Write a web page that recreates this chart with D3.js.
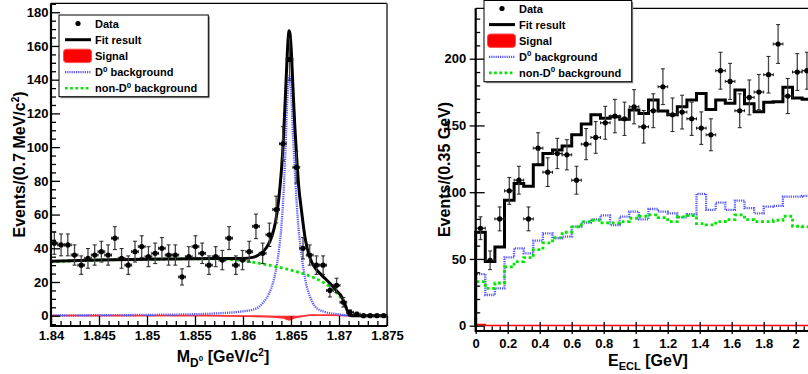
<!DOCTYPE html>
<html><head><meta charset="utf-8">
<script src="https://cdn.jsdelivr.net/npm/d3@7"></script>
<style>
body{margin:0;background:#fff}
svg{display:block}
text{font-family:"Liberation Sans",Arial,Helvetica,sans-serif;font-weight:bold;fill:#000}
</style>
</head><body>
<svg id="c" width="808" height="374"></svg>
<script>
// ---------------- LEFT PANEL DATA (M_D0) ----------------
const massRange = [1.84, 1.875];
const massBinWidth = 0.0007;
const massCounts = [43,42,42,36,30,34,36,38,36,46,34,30,38,41,35,37,40,36,36,23,
                    35,41,37,30,35,33,46,30,33,38,53,37,48,63,102,152,88,40,36,30,
                    30,15,18,8,2,1,0,0,0,0];
const massFit = [[1.8400,32.3],[1.8450,33.0],[1.8500,33.5],[1.8550,33.8],[1.8600,34.0],[1.8610,34.6],
  [1.8617,36.3],[1.8624,40],[1.8630,47],[1.8634,56],[1.8637,68],[1.8640,86],[1.8642,104],[1.8644,128],
  [1.8646,154],[1.8647,164],[1.8648,169],[1.8649,167],[1.8650,160],[1.8652,136],[1.8654,112],[1.8656,93],
  [1.8658,77],[1.8661,62],[1.8665,45],[1.8670,34],[1.8675,28.5],[1.8683,23.5],[1.8691,19],[1.8697,15],
  [1.8703,11],[1.8706,7],[1.8709,2.5],[1.8711,0.3],[1.8715,0],[1.8750,0]];
const massD0Bkg = [[1.8400,0.2],[1.8500,0.5],[1.8550,0.9],[1.8580,1.6],[1.8600,2.6],[1.8610,3.6],
  [1.8616,5],[1.8622,8.5],[1.8627,13],[1.8631,19],[1.8634,26],[1.8637,37],[1.8640,53],[1.8642,70],
  [1.8644,95],[1.8646,125],[1.8647,136],[1.8648,142],[1.8649,140],[1.8650,133],[1.8652,108],[1.8654,86],
  [1.8656,66],[1.8658,51],[1.8661,36],[1.8665,21],[1.8670,11],[1.8675,5.5],[1.8685,2.3],[1.8700,0.8],
  [1.8711,0.1],[1.8720,0],[1.8750,0]];
const massNonD0Bkg = [[1.8400,32.0],[1.8450,33.0],[1.8500,33.5],[1.8550,33.8],[1.8575,33.6],[1.8600,32.6],
  [1.8625,30.2],[1.8650,27.0],[1.8665,24.5],[1.8675,22.2],[1.8685,19.3],[1.8692,16.5],[1.8698,13.2],
  [1.8703,9.8],[1.8707,6.0],[1.8710,2.0],[1.8712,0]];
const massSignal = [[1.8400,0],[1.8560,0],[1.8600,-0.2],[1.8630,-0.6],[1.8642,-1.2],[1.8648,-2.4],
  [1.8654,-1.1],[1.8662,-0.3],[1.8670,0.3],[1.8690,0.3],[1.8711,0],[1.8750,0]];
const massTicks = [1.84,1.845,1.85,1.855,1.86,1.865,1.87,1.875];
const massYTicks = [0,20,40,60,80,100,120,140,160,180];

// ---------------- RIGHT PANEL DATA (E_ECL) ----------------
const eclRange = [0, 2.1];
const eclBinWidth = 0.06;
const eclCounts = [73,49,80,101,109,80,133,115,129,128,109,136,141,152,157,155,164,149,161,179,
                   158,160,155,148,143,191,183,161,171,175,188,211,172,190,191];
const eclFit = [70,48,59,94,106.5,104.5,120.5,129,131.6,134.6,143,151,158,155.4,156.6,154.6,161.6,159,
                169,160.8,158,164,169,174,162,169,166.6,176.6,166.3,160.3,167.4,167.8,178.6,170.6,169.7];
const eclD0Bkg = [38.7,23,28,51.2,57.9,54.2,63.7,69.2,65.5,66.7,74.2,77.2,79.7,82.7,75.4,81.7,85.4,79.7,
                  87.4,85.4,84.2,81.2,83.5,98.7,86.7,92.2,86.7,93.7,88,84.2,89.2,89.7,96.7,96.7,97.2];
const eclNonD0Bkg = [33,28,32,44,48,51,57,62,66,70,74,78,79,77,77,78,80.5,82,83,81,78,81.5,82.5,76.5,
                     75.5,78,79.5,83,79.5,78,78,79,82,74.5,74];
const eclSignal = [0.8,0.2,0.2,0.2,0.2,0.2,0.2,0.2,0.2,0.2,0.2,0.2,0.2,0.2,0.2,0.2,0.2,0.2,0.2,0.2,
                   0.2,0.2,0.2,0.2,0.2,0.2,0.2,0.2,0.2,0.2,0.2,0.2,0.2,0.2,0.2];
const eclTicks = [0,0.2,0.4,0.6,0.8,1,1.2,1.4,1.6,1.8,2];
const eclYTicks = [0,50,100,150,200];

const legendLabels = ["Data","Fit result","Signal","D0 background","non-D0 background"];

// ---------------- STYLES ----------------
const BLUE = "#5555ff", GREEN = "#00e600", RED = "#ff0000";
const svg = d3.select("#c");

function styleAxisText(g, size){
  g.selectAll("text").attr("font-size", size).attr("font-weight","bold")
   .attr("font-family",'"Liberation Sans",Arial,Helvetica,sans-serif').attr("fill","#000");
  g.select(".domain").remove();
  g.selectAll(".tick line").attr("stroke","#000").attr("stroke-width",1.3);
}

function errorBars(g, pts, x, y, halfW){
  const eg = g.append("g");
  pts.forEach(p=>{
    const cx = x(p.x), cy = y(p.n), e = Math.sqrt(p.n);
    const x0 = x(p.x-halfW), x1 = x(p.x+halfW);
    eg.append("line").attr("x1",x0).attr("x2",x1).attr("y1",cy).attr("y2",cy)
      .attr("stroke","#222").attr("stroke-width",1.3);
    [x0,x1].forEach(xx=>eg.append("line").attr("x1",xx).attr("x2",xx).attr("y1",cy-1.5).attr("y2",cy+1.5)
      .attr("stroke","#222").attr("stroke-width",1));
    if(e>0){
      const ya = y(p.n+e), yb = y(p.n-e);
      eg.append("line").attr("x1",cx).attr("x2",cx).attr("y1",ya).attr("y2",yb)
        .attr("stroke","#444").attr("stroke-width",1.3);
      [ya,yb].forEach(yy=>eg.append("line").attr("x1",cx-2).attr("x2",cx+2).attr("y1",yy).attr("y2",yy)
        .attr("stroke","#222").attr("stroke-width",1));
    }
    eg.append("circle").attr("cx",cx).attr("cy",cy).attr("r",2.6).attr("fill","#000");
  });
}

function legend(g, x0, y0, w, h, sx, ys){
  g.append("rect").attr("x",x0+1.5).attr("y",y0+1.5).attr("width",w).attr("height",h).attr("fill","#888");
  g.append("rect").attr("x",x0).attr("y",y0).attr("width",w).attr("height",h).attr("fill","#fff")
    .attr("stroke","#000").attr("stroke-width",1);
  const lx0 = sx, lx1 = sx+26, tx = sx+30;
  g.append("circle").attr("cx",(lx0+lx1)/2).attr("cy",ys[0]).attr("r",2.6).attr("fill","#000");
  g.append("line").attr("x1",lx0).attr("x2",lx1).attr("y1",ys[1]).attr("y2",ys[1]).attr("stroke","#000").attr("stroke-width",3);
  g.append("rect").attr("x",lx0-1.5).attr("y",ys[2]-6.7).attr("width",28).attr("height",13.4).attr("rx",3)
    .attr("fill",RED).attr("stroke","#ff5050").attr("stroke-width",1);
  g.append("line").attr("x1",lx0).attr("x2",lx1).attr("y1",ys[3]).attr("y2",ys[3]).attr("stroke",BLUE)
    .attr("stroke-width",2.2).attr("stroke-dasharray","1.2,1");
  g.append("line").attr("x1",lx0).attr("x2",lx1).attr("y1",ys[4]).attr("y2",ys[4]).attr("stroke",GREEN)
    .attr("stroke-width",2.6).attr("stroke-dasharray","2.6,2.6");
  legendLabels.forEach((lab,i)=>{
    const t = g.append("text").attr("x",tx).attr("y",ys[i]+4).attr("font-size",11);
    const m = lab.match(/^(.*D)0( background)$/);
    if(m){
      t.append("tspan").text(m[1]);
      t.append("tspan").attr("dy",-4.5).attr("font-size",8).text("0");
      t.append("tspan").attr("dy",4.5).text(m[2]);
    } else t.text(lab);
  });
}

// ================= LEFT PANEL =================
{
  const x = d3.scaleLinear().domain(massRange).range([51,387]);
  const y = d3.scaleLinear().domain([-6.1,185.3]).range([326,3.3]);
  const g = svg.append("g");
  const line = d3.line().x(d=>x(d[0])).y(d=>y(d[1])).curve(d3.curveMonotoneX);
  const area = d3.area().x(d=>x(d[0])).y0(y(0)).y1(d=>y(d[1])).curve(d3.curveMonotoneX);

  g.append("line").attr("x1",51).attr("x2",387).attr("y1",3.3).attr("y2",3.3).attr("stroke","#000").attr("stroke-width",1.2);
  g.append("line").attr("x1",387).attr("x2",387).attr("y1",3.3).attr("y2",326).attr("stroke","#666").attr("stroke-width",2);

  g.append("path").datum(massSignal).attr("d",area).attr("fill",RED).attr("fill-opacity",0.85);
  g.append("path").datum(massSignal).attr("d",line).attr("fill","none").attr("stroke","#ff3030").attr("stroke-width",1.8);
  g.append("path").datum(massD0Bkg).attr("d",line).attr("fill","none").attr("stroke",BLUE)
    .attr("stroke-width",2.3).attr("stroke-dasharray","1.2,1");
  g.append("path").datum(massNonD0Bkg).attr("d",line).attr("fill","none").attr("stroke",GREEN)
    .attr("stroke-width",2.8).attr("stroke-dasharray","2.8,2.8");
  g.append("path").datum(massFit).attr("d",line).attr("fill","none").attr("stroke","#000").attr("stroke-width",3);

  const pts = massCounts.map((n,i)=>({x: massRange[0]+(i+0.5)*massBinWidth, n}));
  errorBars(g, pts, x, y, massBinWidth/2);

  const minorX = d3.range(0,36).map(i=>+(1.84+i*0.001).toFixed(4)).filter(v=>!massTicks.some(t=>Math.abs(t-v)<1e-6));
  const minorY = d3.range(-5,186,5).filter(v=>v%20!==0);
  const ax = g.append("g").attr("transform","translate(0,326)")
    .call(d3.axisBottom(x).tickValues(massTicks).tickSize(-10).tickPadding(4.8).tickFormat(d=>String(d)));
  styleAxisText(ax,13);
  const axm = g.append("g").attr("transform","translate(0,326)")
    .call(d3.axisBottom(x).tickValues(minorX).tickSize(-5).tickFormat(""));
  styleAxisText(axm,13);
  const ay = g.append("g").attr("transform","translate(51,0)")
    .call(d3.axisLeft(y).tickValues(massYTicks).tickSize(-9).tickPadding(2.5).tickFormat(d=>String(d)));
  styleAxisText(ay,13);
  const aym = g.append("g").attr("transform","translate(51,0)")
    .call(d3.axisLeft(y).tickValues(minorY).tickSize(-5).tickFormat(""));
  styleAxisText(aym,13);
  g.append("line").attr("x1",51).attr("x2",387).attr("y1",326).attr("y2",326).attr("stroke","#000").attr("stroke-width",2.2);
  g.append("line").attr("x1",51).attr("x2",51).attr("y1",3.3).attr("y2",327).attr("stroke","#000").attr("stroke-width",2.2);

  const xt = g.append("text").attr("x",223).attr("y",361.7).attr("text-anchor","middle").attr("font-size",16);
  xt.append("tspan").text("M");
  xt.append("tspan").attr("dy",5).attr("font-size",12).text("D");
  xt.append("tspan").attr("dy",-5.5).attr("font-size",8).text("0");
  xt.append("tspan").attr("dy",0.5).text(" [GeV/c");
  xt.append("tspan").attr("dy",-6).attr("font-size",10).text("2");
  xt.append("tspan").attr("dy",6).text("]");
  const yt = g.append("text").attr("transform","translate(25,164.5) rotate(-90)").attr("text-anchor","middle").attr("font-size",16);
  yt.append("tspan").text("Events/(0.7 MeV/c");
  yt.append("tspan").attr("dy",-6).attr("font-size",10).text("2");
  yt.append("tspan").attr("dy",6).text(")");

  legend(g, 59, 15, 149.3, 81.7, 65, [23.5,39.7,55.9,72.1,88.3]);
}

// ================= RIGHT PANEL =================
{
  const x = d3.scaleLinear().domain(eclRange).range([475.7,811.7]);
  const y = d3.scaleLinear().domain([-3.97,237.75]).range([331,8.3]);
  const g = svg.append("g");
  const edges = d3.range(0,eclCounts.length+1).map(i=>i*eclBinWidth);
  function stepPts(vals){
    const p = [[edges[0],0]];
    vals.forEach((v,i)=>p.push([edges[i],v]));
    p.push([edges[vals.length],vals[vals.length-1]]);
    return p;
  }
  const step = d3.line().x(d=>x(d[0])).y(d=>y(d[1])).curve(d3.curveStepAfter);
  const stepArea = d3.area().x(d=>x(d[0])).y0(y(0)).y1(d=>y(d[1])).curve(d3.curveStepAfter);

  g.append("line").attr("x1",475.7).attr("x2",812).attr("y1",8.3).attr("y2",8.3).attr("stroke","#000").attr("stroke-width",1.2);

  g.append("path").datum(stepPts(eclSignal)).attr("d",stepArea).attr("fill","#ff6060");
  g.append("path").datum(stepPts(eclSignal)).attr("d",step).attr("fill","none").attr("stroke",RED).attr("stroke-width",1.6);
  g.append("path").datum(stepPts(eclD0Bkg)).attr("d",step).attr("fill","none").attr("stroke",BLUE)
    .attr("stroke-width",2.3).attr("stroke-dasharray","1.2,1");
  g.append("path").datum(stepPts(eclNonD0Bkg)).attr("d",step).attr("fill","none").attr("stroke",GREEN)
    .attr("stroke-width",2.8).attr("stroke-dasharray","2.8,2.8");
  g.append("path").datum(stepPts(eclFit)).attr("d",step).attr("fill","none").attr("stroke","#000").attr("stroke-width",3);

  const pts = eclCounts.map((n,i)=>({x:(i+0.5)*eclBinWidth, n}));
  errorBars(g, pts, x, y, eclBinWidth/2);

  const minorX = d3.range(0,43).map(i=>+(i*0.05).toFixed(3)).filter(v=>!eclTicks.some(t=>Math.abs(t-v)<1e-6));
  const minorY = d3.range(0,240,10).filter(v=>v%50!==0);
  const ax = g.append("g").attr("transform","translate(0,331)")
    .call(d3.axisBottom(x).tickValues(eclTicks).tickSize(3).tickPadding(4.3).tickFormat(d=>String(d)));
  styleAxisText(ax,13);
  const axi = g.append("g").attr("transform","translate(0,331)")
    .call(d3.axisBottom(x).tickValues(eclTicks).tickSize(-9).tickFormat(""));
  styleAxisText(axi,13);
  const axm = g.append("g").attr("transform","translate(0,331)")
    .call(d3.axisBottom(x).tickValues(minorX).tickSize(-4.5).tickFormat(""));
  styleAxisText(axm,13);
  const ay = g.append("g").attr("transform","translate(475.7,0)")
    .call(d3.axisLeft(y).tickValues(eclYTicks).tickSize(6).tickPadding(3.5).tickFormat(d=>String(d)));
  styleAxisText(ay,13);
  const ayi = g.append("g").attr("transform","translate(475.7,0)")
    .call(d3.axisLeft(y).tickValues(eclYTicks).tickSize(-9).tickFormat(""));
  styleAxisText(ayi,13);
  const aym = g.append("g").attr("transform","translate(475.7,0)")
    .call(d3.axisLeft(y).tickValues(minorY).tickSize(-4.5).tickFormat(""));
  styleAxisText(aym,13);
  g.append("line").attr("x1",475.7).attr("x2",812).attr("y1",331).attr("y2",331).attr("stroke","#000").attr("stroke-width",2.2);
  g.append("line").attr("x1",475.7).attr("x2",475.7).attr("y1",8.3).attr("y2",332).attr("stroke","#000").attr("stroke-width",2.2);

  const xt = g.append("text").attr("x",648).attr("y",365.7).attr("text-anchor","middle").attr("font-size",16);
  xt.append("tspan").text("E");
  xt.append("tspan").attr("dy",4.5).attr("font-size",11).text("ECL");
  xt.append("tspan").attr("dy",-4.5).text(" [GeV]");
  g.append("text").attr("transform","translate(449.5,169.5) rotate(-90)").attr("text-anchor","middle")
    .attr("font-size",16).text("Events/(0.35 GeV)");

  legend(g, 484, 0.5, 147.7, 81.2, 489, [8.5,24.6,40.7,56.8,72.9]);
}
</script>
</body></html>
